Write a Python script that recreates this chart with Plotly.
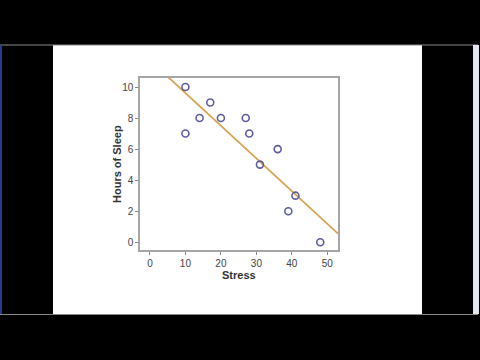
import numpy as np
import plotly.graph_objects as go

stress = [10, 10, 14, 17, 20, 27, 28, 31, 36, 39, 41, 48]
sleep = [10, 7, 8, 9, 8, 8, 7, 5, 6, 2, 3, 0]
x_ticks = [0, 10, 20, 30, 40, 50]
y_ticks = [0, 2, 4, 6, 8, 10]

xr = [-2.8, 53.0]
yr = [-0.5, 10.58]

slope, intercept = np.polyfit(stress, sleep, 1)
fit_x = np.array(xr)
fit_y = slope * fit_x + intercept

fig = go.Figure()
fig.add_trace(go.Scatter(x=fit_x, y=fit_y, mode="lines",
                         line=dict(color="#D9A24E", width=1.8),
                         hoverinfo="skip", showlegend=False, cliponaxis=True))
fig.add_trace(go.Scatter(x=stress, y=sleep, mode="markers",
                         marker=dict(symbol="circle-open", size=7,
                                     color="#5C5CA0", line=dict(width=1.6)),
                         showlegend=False))

L, R, T, B = 140, 338, 78, 250
W, H = 480, 360
pw, ph = R - L, B - T

def px(x):
    return (x - L) / pw

def py(y):
    return (B - y) / ph

shapes = [
    dict(type="rect", xref="paper", yref="paper", x0=px(0), x1=px(480), y0=py(360), y1=py(0),
         fillcolor="black", line=dict(width=0), layer="below"),
    dict(type="rect", xref="paper", yref="paper", x0=px(53), x1=px(422), y0=py(314), y1=py(45),
         fillcolor="white", line=dict(width=0), layer="below"),
    dict(type="line", xref="paper", yref="paper", x0=px(0), x1=px(478), y0=py(45), y1=py(45),
         line=dict(color="#8a8a8a", width=1), layer="below"),
    dict(type="line", xref="paper", yref="paper", x0=px(0), x1=px(478), y0=py(314.5), y1=py(314.5),
         line=dict(color="#8a8a8a", width=1), layer="below"),
    dict(type="rect", xref="paper", yref="paper", x0=px(0), x1=px(2), y0=py(314), y1=py(45),
         fillcolor="#2a3a8a", line=dict(width=0), layer="below"),
    dict(type="rect", xref="paper", yref="paper", x0=px(473), x1=px(479), y0=py(314), y1=py(45),
         fillcolor="#e4e8ee", line=dict(width=0), layer="below"),
]

title_font = dict(family="Liberation Sans, Arial", size=11, color="#333333")
annotations = [
    dict(text="<b>Stress</b>", xref="paper", yref="paper", x=px(239), y=py(275),
         xanchor="center", yanchor="middle", showarrow=False, font=title_font),
    dict(text="<b>Hours of Sleep</b>", xref="paper", yref="paper", x=px(117), y=py(164),
         xanchor="center", yanchor="middle", showarrow=False, textangle=-90, font=title_font),
]

axis_common = dict(showgrid=False, zeroline=False, showline=True, mirror=True,
                   linecolor="#a6a6a6", linewidth=1.5, ticks="outside", ticklen=3,
                   tickcolor="#888888", tickwidth=1,
                   tickfont=dict(family="Liberation Sans, Arial", size=10, color="#444444"))

fig.update_layout(
    width=W, height=H,
    margin=dict(l=L, r=W - R, t=T, b=H - B),
    paper_bgcolor="black", plot_bgcolor="white",
    shapes=shapes, annotations=annotations,
    xaxis=dict(range=xr, tickvals=x_ticks, **axis_common),
    yaxis=dict(range=yr, tickvals=y_ticks, **axis_common),
)

fig.write_html("out.html")
